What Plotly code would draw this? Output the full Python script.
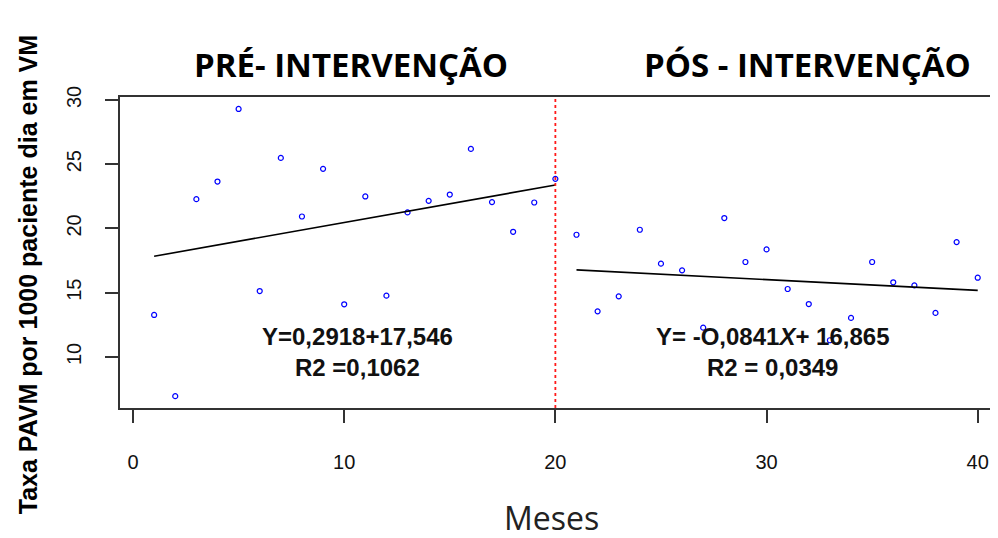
import plotly.graph_objects as go

# ---- data ----
months_pre = list(range(1, 21))
rate_pre = [13.27, 6.95, 22.28, 23.65, 29.3, 15.13, 25.49, 20.93, 24.64, 14.1,
            22.49, 14.77, 21.25, 22.15, 22.64, 26.19, 22.05, 19.74, 22.02, 23.86]
months_post = list(range(21, 41))
rate_post = [19.51, 13.55, 14.72, 19.9, 17.26, 16.74, 12.28, 20.81, 17.39, 18.37,
             15.29, 14.12, 11.3, 13.04, 17.39, 15.81, 15.57, 13.43, 18.94, 16.17]

# regression coefficients (as printed on the chart)
pre_slope, pre_intercept = 0.2918, 17.546
post_slope, post_intercept = -0.0841, 16.865
intervention_month = 20

x_ticks = [0, 10, 20, 30, 40]
y_ticks = [10, 15, 20, 25, 30]

pre_fit = [pre_intercept + pre_slope * m for m in months_pre]
post_fit = [post_intercept + post_slope * (m - intervention_month) for m in months_post]

fig = go.Figure()

marker = dict(symbol="circle-open", color="#0000ff", size=5, line=dict(width=1.2, color="#0000ff"))
fig.add_trace(go.Scatter(x=months_pre, y=rate_pre, mode="markers", marker=marker, showlegend=False))
fig.add_trace(go.Scatter(x=months_post, y=rate_post, mode="markers", marker=marker, showlegend=False))
fig.add_trace(go.Scatter(x=[months_pre[0], months_pre[-1]], y=[pre_fit[0], pre_fit[-1]],
                         mode="lines", line=dict(color="black", width=1.6), showlegend=False))
fig.add_trace(go.Scatter(x=[months_post[0], months_post[-1]], y=[post_fit[0], post_fit[-1]],
                         mode="lines", line=dict(color="black", width=1.6), showlegend=False))

fig.add_shape(type="line", xref="x", yref="paper", x0=intervention_month, x1=intervention_month,
              y0=0, y1=1, line=dict(color="#ff1a1a", width=1.8, dash="dot"))

title_font = dict(family="Open Sans", size=33, color="black", weight="bold")
fig.add_annotation(x=10.32, y=1.103, xref="x", yref="paper", text="PRÉ- INTERVENÇÃO",
                   showarrow=False, font=title_font, xanchor="center", yanchor="middle")
fig.add_annotation(x=31.96, y=1.103, xref="x", yref="paper", text="PÓS - INTERVENÇÃO",
                   showarrow=False, font=title_font, xanchor="center", yanchor="middle")

eq_font = dict(family="Liberation Sans, Arial", size=24, color="#111111", weight="bold")
fig.add_annotation(x=10.65, y=11.56, text="Y=0,2918+17,546", showarrow=False, font=eq_font)
fig.add_annotation(x=10.65, y=9.22, text="R2 =0,1062", showarrow=False, font=eq_font)
fig.add_annotation(x=30.3, y=11.56, text="Y= -O,0841<i>X</i>+ 16,865", showarrow=False, font=eq_font)
fig.add_annotation(x=30.3, y=9.22, text="R2 = 0,0349", showarrow=False, font=eq_font)

fig.add_annotation(x=0.491, y=-0.352, xref="paper", yref="paper", text="Meses", showarrow=False,
                   font=dict(family="Open Sans", size=32, color="#222222"),
                   xanchor="center", yanchor="middle")
fig.add_annotation(x=-0.1048, y=0.43, xref="paper", yref="paper",
                   text="Taxa PAVM por 1000 paciente dia em VM", showarrow=False, textangle=-90,
                   font=dict(family="Liberation Sans, Arial", size=25, color="black", weight="bold"),
                   xanchor="center", yanchor="middle")

tick_font = dict(family="Liberation Sans Narrow, Arial Narrow, Liberation Sans", size=20, color="#111111")
fig.update_xaxes(range=[-0.616, 40.96], tickvals=x_ticks, ticks="outside", ticklen=13, tickwidth=1.5,
                 tickcolor="#333333", showline=True, linecolor="#333333", linewidth=2, mirror=True,
                 showgrid=False, zeroline=False, tickfont=tick_font, ticklabelstandoff=22)
fig.update_yaxes(range=[6.03, 30.23], tickvals=y_ticks, ticks="outside", ticklen=13, tickwidth=1.5,
                 tickcolor="#333333", showline=True, linecolor="#333333", linewidth=2, mirror=False,
                 showgrid=False, zeroline=False, tickfont=tick_font, tickangle=-90, ticklabelstandoff=16)

fig.update_layout(width=990, height=530, margin=dict(l=112, r=0, t=89, b=130),
                  plot_bgcolor="white", paper_bgcolor="white")

fig.write_html("out.html")
